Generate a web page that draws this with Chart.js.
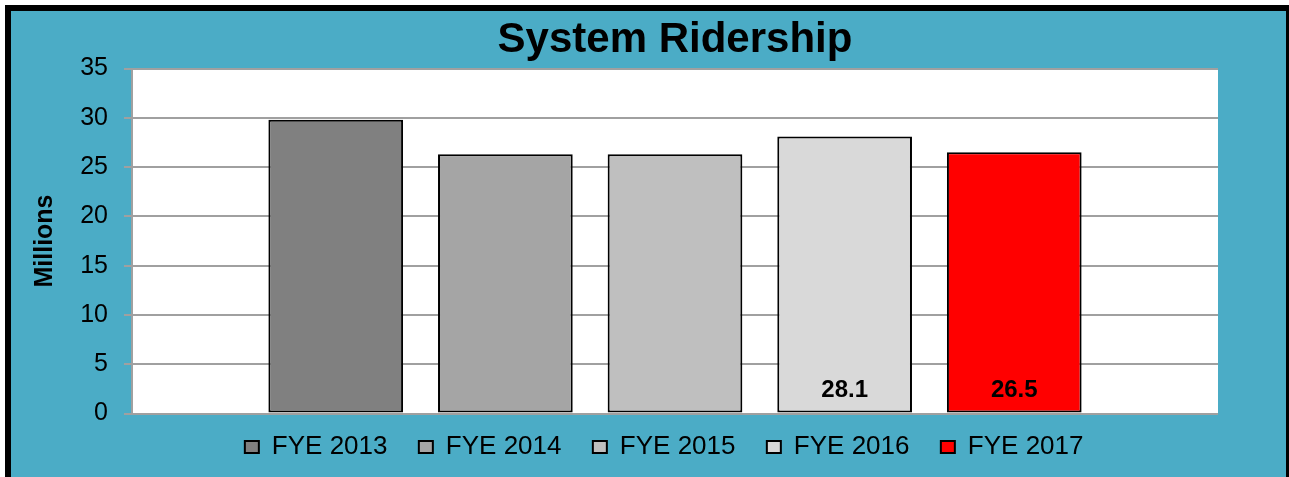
<!DOCTYPE html>
<html>
<head>
<meta charset="utf-8">
<title>System Ridership</title>
<script src="https://cdn.jsdelivr.net/npm/chart.js@4.4.1/dist/chart.umd.min.js"></script>
<style>
  html, body { margin: 0; padding: 0; background: #fff; }
  canvas { display: block; }
</style>
</head>
<body>
<canvas id="ridership" width="1289" height="477"></canvas>
<script>
// values (millions of riders)
const categories = [''];
const seriesNames = ['FYE 2013', 'FYE 2014', 'FYE 2015', 'FYE 2016', 'FYE 2017'];
const ridership = [29.8, 26.3, 26.3, 28.1, 26.5];
const yTicks = [0, 5, 10, 15, 20, 25, 30, 35];
const labeledSeries = ['FYE 2016', 'FYE 2017'];

const barColors = ['#808080', '#a5a5a5', '#bfbfbf', '#d9d9d9', '#ff0000'];
const font = "'Liberation Sans', Arial, sans-serif";
const gridGray = '#a0a0a0';

// teal frame with black border, white plot area
const background = {
    id: 'background',
    beforeDraw(chart) {
        const {ctx, width, height, chartArea} = chart;
        ctx.save();
        ctx.fillStyle = '#ffffff';
        ctx.fillRect(0, 0, width, height);
        ctx.fillStyle = '#000000';
        ctx.fillRect(5, 5, width, height);
        ctx.fillStyle = '#4bacc6';
        ctx.fillRect(11, 11, width - 14, height);
        ctx.fillStyle = '#ffffff';
        ctx.fillRect(chartArea.left, chartArea.top, chartArea.width, chartArea.height);
        ctx.restore();
    }
};

// value labels at the foot of the last two bars
const valueLabels = {
    id: 'valueLabels',
    afterDatasetsDraw(chart) {
        const {ctx} = chart;
        ctx.save();
        ctx.font = 'bold 24px ' + font;
        ctx.fillStyle = '#000';
        ctx.textAlign = 'center';
        ctx.textBaseline = 'middle';
        chart.data.datasets.forEach((ds, i) => {
            if (!labeledSeries.includes(ds.label)) return;
            const bar = chart.getDatasetMeta(i).data[0];
            ctx.fillText(ds.data[0].toFixed(1), bar.x, bar.base - 22);
        });
        ctx.restore();
    }
};

const ctx = document.getElementById('ridership');
const myChart = new Chart(ctx, {
    type: 'bar',
    data: {
        labels: categories,
        datasets: seriesNames.map((name, i) => ({
            label: name,
            data: [ridership[i]],
            backgroundColor: barColors[i],
            borderColor: '#000000',
            borderWidth: 2,
            borderSkipped: false,
            categoryPercentage: 0.781,
            barPercentage: 0.794
        }))
    },
    options: {
        responsive: false,
        animation: false,
        events: [],
        layout: {
            padding: {top: 12, left: 30, right: 71, bottom: 7}
        },
        plugins: {
            title: {
                display: true,
                text: 'System Ridership',
                color: '#000',
                fullSize: false,
                font: {family: font, size: 42, weight: 'bold'},
                padding: {top: 2.8, bottom: 3.3}
            },
            legend: {
                position: 'bottom',
                fullSize: false,
                labels: {
                    color: '#000',
                    font: {family: font, size: 26},
                    boxWidth: 14,
                    boxHeight: 12,
                    padding: 9.7,
                    generateLabels(chart) {
                        const items = Chart.defaults.plugins.legend.labels.generateLabels(chart);
                        items.forEach(it => { it.text = it.text + '   '; });
                        return items;
                    }
                }
            },
            tooltip: {enabled: false}
        },
        scales: {
            x: {
                afterFit: s => { s.height = 10.8; },
                ticks: {display: false},
                grid: {display: false},
                border: {display: false}
            },
            y: {
                min: 0,
                max: 35,
                afterBuildTicks: s => { s.ticks = yTicks.map(v => ({value: v})); },
                afterFit: s => { s.width = 102; },
                ticks: {
                    color: '#000',
                    font: {family: font, size: 25},
                    padding: 16
                },
                grid: {color: gridGray, lineWidth: 2, tickLength: 8},
                border: {color: gridGray, width: 2},
                title: {
                    display: true,
                    text: 'Millions',
                    color: '#000',
                    font: {family: font, size: 25, weight: 'bold'},
                    padding: {top: 0, bottom: 0}
                }
            }
        }
    },
    plugins: [background, valueLabels]
});
</script>
</body>
</html>
